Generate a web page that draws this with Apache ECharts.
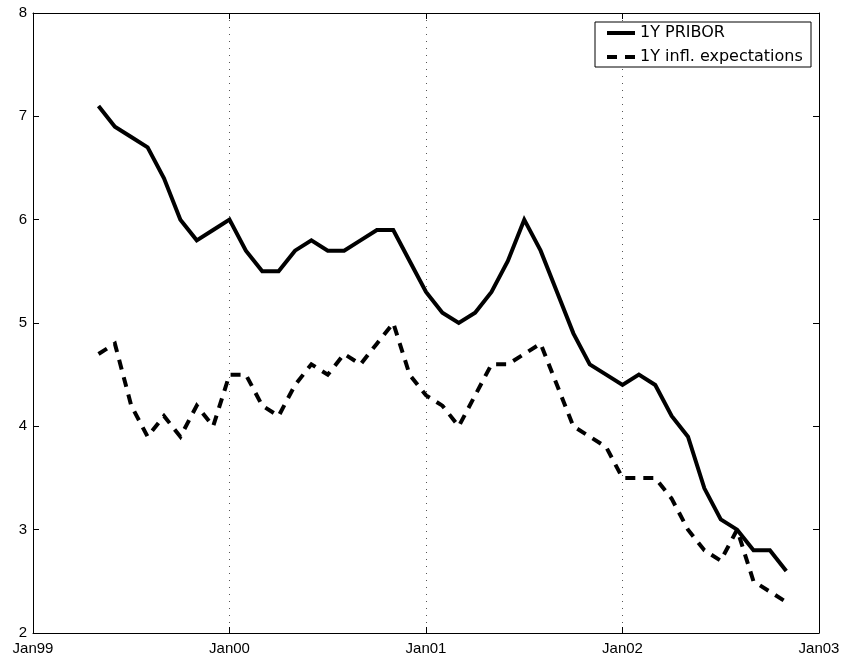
<!DOCTYPE html>
<html>
<head>
<meta charset="utf-8">
<script src="https://cdn.jsdelivr.net/npm/echarts@6/dist/echarts.min.js"></script>
<style>
  html, body { margin: 0; padding: 0; background: #fff; }
  #chart { width: 842px; height: 659px; }
</style>
</head>
<body>
<div id="chart"></div>
<script>
// Monthly observations, May 1999 – Nov 2002
const months = [
  '1999-05','1999-06','1999-07','1999-08','1999-09','1999-10','1999-11','1999-12',
  '2000-01','2000-02','2000-03','2000-04','2000-05','2000-06','2000-07','2000-08','2000-09','2000-10','2000-11','2000-12',
  '2001-01','2001-02','2001-03','2001-04','2001-05','2001-06','2001-07','2001-08','2001-09','2001-10','2001-11','2001-12',
  '2002-01','2002-02','2002-03','2002-04','2002-05','2002-06','2002-07','2002-08','2002-09','2002-10','2002-11'
];

// 1Y PRIBOR, %
const pribor = [
  7.1, 6.9, 6.8, 6.7, 6.4, 6.0, 5.8, 5.9,
  6.0, 5.7, 5.5, 5.5, 5.7, 5.8, 5.7, 5.7, 5.8, 5.9, 5.9, 5.6,
  5.3, 5.1, 5.0, 5.1, 5.3, 5.6, 6.0, 5.7, 5.3, 4.9, 4.6, 4.5,
  4.4, 4.5, 4.4, 4.1, 3.9, 3.4, 3.1, 3.0, 2.8, 2.8, 2.6
];

// 1Y inflation expectations, %
const inflExp = [
  4.7, 4.8, 4.2, 3.9, 4.1, 3.9, 4.2, 4.0,
  4.5, 4.5, 4.2, 4.1, 4.4, 4.6, 4.5, 4.7, 4.6, 4.8, 5.0, 4.5,
  4.3, 4.2, 4.0, 4.3, 4.6, 4.6, 4.7, 4.8, 4.4, 4.0, 3.9, 3.8,
  3.5, 3.5, 3.5, 3.3, 3.0, 2.8, 2.7, 3.0, 2.5, 2.4, 2.3
];

// x-axis tick labels, one per January
const tickLabels = ['Jan99', 'Jan00', 'Jan01', 'Jan02', 'Jan03'];
const seriesNames = ['1Y PRIBOR', '1Y infl. expectations'];

// months since Jan 1999
function monthIndex(s) {
  const [y, m] = s.split('-').map(Number);
  return (y - 1999) * 12 + (m - 1);
}
const toPoints = vals => vals.map((v, i) => [monthIndex(months[i]), v]);

const FONT = '"Liberation Sans", Arial, Helvetica, sans-serif';
const DASH = [10, 8];

const chart = echarts.init(document.getElementById('chart'), null, { renderer: 'canvas' });

const tickStyle = { show: true, inside: true, length: 6, lineStyle: { color: '#000', width: 1 } };
const lineAxis = { show: true, onZero: false, lineStyle: { color: '#000', width: 1 } };

chart.setOption({
  animation: false,
  backgroundColor: '#fff',
  grid: {
    left: 33, right: 23, top: 13, bottom: 26,
    containLabel: false,
    outerBoundsMode: 'none',
    show: false
  },
  legend: {
    orient: 'vertical',
    left: 595,
    top: 22,
    data: seriesNames,
    backgroundColor: '#fff',
    borderColor: '#000',
    borderWidth: 1,
    borderRadius: 0,
    padding: [3, 8, 2, 10],
    itemGap: 8,
    itemWidth: 28,
    itemHeight: 16,
    selectedMode: false,
    // line sample only, no marker
    itemStyle: { color: 'rgba(0,0,0,0)', borderWidth: 0, opacity: 0 },
    lineStyle: { width: 4, color: '#000', cap: 'butt' },
    textStyle: {
      fontFamily: '"DejaVu Sans", sans-serif',
      fontSize: 16,
      color: '#000',
      width: 163,
      lineHeight: 16
    }
  },
  xAxis: [
    {
      type: 'value',
      min: 0, max: 48, interval: 12,
      position: 'bottom',
      axisLine: lineAxis,
      axisTick: tickStyle,
      axisLabel: {
        show: true, margin: 8, color: '#000',
        fontFamily: FONT, fontSize: 15,
        formatter: v => tickLabels[v / 12] || ''
      },
      splitLine: {
        show: true,
        lineStyle: { color: '#555', width: 1, type: [1, 6] }
      }
    },
    {
      type: 'value',
      min: 0, max: 48, interval: 12,
      position: 'top',
      axisLine: lineAxis,
      axisTick: tickStyle,
      axisLabel: { show: false },
      splitLine: { show: false }
    }
  ],
  yAxis: [
    {
      type: 'value',
      min: 2, max: 8, interval: 1,
      position: 'left',
      axisLine: lineAxis,
      axisTick: tickStyle,
      axisLabel: {
        show: true, margin: 6, color: '#000',
        fontFamily: FONT, fontSize: 15
      },
      splitLine: { show: false }
    },
    {
      type: 'value',
      min: 2, max: 8, interval: 1,
      position: 'right',
      axisLine: lineAxis,
      axisTick: tickStyle,
      axisLabel: { show: false },
      splitLine: { show: false }
    }
  ],
  series: [
    {
      name: seriesNames[0],
      type: 'line',
      xAxisIndex: 0, yAxisIndex: 0,
      data: toPoints(pribor),
      symbol: 'none',
      showSymbol: false,
      lineStyle: { color: '#000', width: 4, type: 'solid', join: 'miter' },
      itemStyle: { color: '#000' },
      emphasis: { disabled: true }
    },
    {
      name: seriesNames[1],
      type: 'line',
      xAxisIndex: 0, yAxisIndex: 0,
      data: toPoints(inflExp),
      symbol: 'none',
      showSymbol: false,
      lineStyle: { color: '#000', width: 4, type: DASH, cap: 'butt', join: 'miter' },
      itemStyle: { color: '#000' },
      emphasis: { disabled: true }
    }
  ]
});
</script>
</body>
</html>
